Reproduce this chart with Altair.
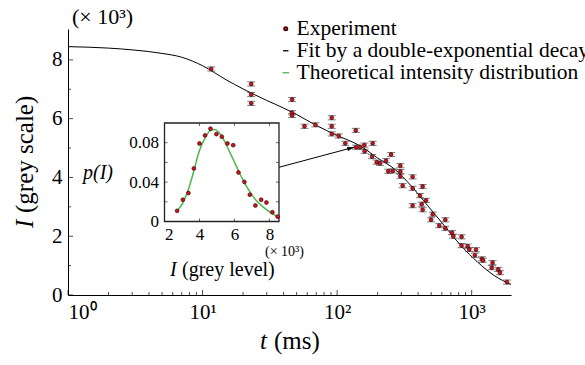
import altair as alt
import pandas as pd

FONT = "Liberation Serif"

# ---------------- main panel: decay of the intensity ----------------
exp_t = [11.6, 23.0, 23.0, 23.0, 46.3, 46.3, 46.3, 57.2, 69.0, 91.2, 91.2, 91.2, 102.8,
         137.5, 115, 138, 148, 159.6, 160, 183.8, 181.8, 196.8, 208.4, 231, 251.9, 240,
         259, 295, 295, 295, 364, 307, 364, 432, 413, 458, 364, 425, 432, 513, 499, 637,
         574, 637, 714, 730, 841, 841, 933, 1077, 960, 1057, 1192, 1210, 1430, 1410, 1575,
         1622, 1829]
exp_I = [7.69, 7.18, 6.82, 6.52, 6.65, 6.20, 6.11, 5.74, 5.79, 6.03, 5.74, 5.48, 5.41,
         5.60, 5.16, 5.03, 5.03, 5.10, 4.89, 5.16, 4.71, 4.52, 4.48, 4.57, 4.78, 4.21,
         4.22, 4.40, 4.20, 4.04, 4.02, 3.72, 3.63, 3.69, 3.38, 3.22, 3.04, 3.09, 2.90, 2.75,
         2.56, 2.56, 2.36, 2.27, 2.12, 2.00, 1.98, 1.68, 1.66, 1.54, 1.55, 1.35, 1.23, 1.18,
         1.10, 0.93, 0.87, 0.76, 0.44]
exp_err = 0.07

fit_t = [1, 2, 3, 5, 7, 10, 15, 20, 30, 40, 50, 70, 100, 150, 200, 266, 354, 471, 626,
         833, 1107, 1472, 1958]
fit_I = [8.45, 8.40, 8.34, 8.22, 8.09, 7.80, 7.32, 7.01, 6.62, 6.36, 6.14, 5.77, 5.43,
         5.06, 4.66, 4.29, 3.72, 3.04, 2.36, 1.68, 1.12, 0.66, 0.36]

main_x_domain = [1, 1960]
main_y_domain = [0, 9.05]
main_x_labels = [1, 10, 100, 1000]
main_x_minor = [2, 3, 4, 5, 6, 7, 8, 9, 20, 30, 40, 50, 60, 70, 80, 90,
                200, 300, 400, 500, 600, 700, 800, 900]
main_y_labels = [0, 2, 4, 6, 8]
main_y_minor = [1, 3, 5, 7]

arrow_from = (36.6, 4.34)
arrow_to = (134, 5.03)

# ---------------- inset: intensity distribution ----------------
inset_I = [2.72, 3.05, 3.37, 3.68, 4.0, 4.32, 4.63, 4.97, 5.28, 5.6, 5.93, 6.23, 6.57,
           6.88, 7.2, 7.53, 7.83, 8.17, 8.47]
inset_p = [0.0108, 0.0221, 0.0289, 0.0539, 0.0792, 0.0874, 0.0942, 0.0887, 0.086,
           0.0792, 0.0775, 0.0498, 0.0402, 0.0272, 0.0162, 0.0221, 0.0193, 0.0094, 0.0049]
theory_I = [2.72, 3.05, 3.37, 3.68, 4.0, 4.32, 4.63, 4.86, 5.09, 5.33, 5.6, 5.92, 6.23,
            6.57, 6.88, 7.2, 7.52, 7.83, 8.17, 8.48]
theory_p = [0.0108, 0.0190, 0.0327, 0.0515, 0.0720, 0.0850, 0.0925, 0.0935, 0.0908,
            0.0850, 0.0754, 0.0634, 0.0515, 0.0395, 0.0303, 0.0224, 0.0166, 0.0121,
            0.0080, 0.0050]
inset_x_domain = [2, 8.55]
inset_y_domain = [0, 0.1]
inset_x_labels = [2, 4, 6, 8]
inset_y_labels = [0, 0.04, 0.08]
inset_x_ticks = [4, 6, 8]
inset_y_ticks = [0.02, 0.04, 0.06, 0.08]

series_names = ["Experiment", "Fit by a double-exponential decay",
                "Theoretical intensity distribution"]

# ---------------- layout (pixels) ----------------
W, H = 443, 266
INSET_X_RANGE = [96.5, 211]
INSET_Y_RANGE = [192.5, 94]

RED = "#cc1420"
GREEN = "#4cb748"

exp_df = pd.DataFrame({"t": exp_t, "I": exp_I})
fit_df = pd.DataFrame({"t": fit_t, "I": fit_I})

mx = alt.Scale(type="log", domain=main_x_domain, nice=False)
my = alt.Scale(domain=main_y_domain, nice=False, zero=False)

x_axis = alt.Axis(values=main_x_labels, ticks=False, grid=False, labelFont=FONT,
                  labelExpr="datum.value < 5 ? '10⁰' : datum.value < 50 ? '10¹' : datum.value < 500 ? '10²' : '10³'",
                  labelFontSize=21, labelPadding=6, title=None)
y_axis = alt.Axis(values=main_y_labels, ticks=False, grid=False, labelFont=FONT,
                  labelFontSize=21, labelPadding=6, title=None)

base = alt.Chart(exp_df).transform_calculate(lo=f"datum.I - {exp_err}", hi=f"datum.I + {exp_err}")

err_rule = base.mark_rule(color="#555555", strokeWidth=0.8).encode(
    x=alt.X("t:Q", scale=mx, axis=x_axis),
    y=alt.Y("lo:Q", scale=my, axis=y_axis),
    y2="hi:Q")
cap_lo = base.mark_tick(orient="horizontal", size=8, thickness=1, color="#444444").encode(
    x=alt.X("t:Q", scale=mx), y=alt.Y("lo:Q", scale=my))
cap_hi = base.mark_tick(orient="horizontal", size=8, thickness=1, color="#444444").encode(
    x=alt.X("t:Q", scale=mx), y=alt.Y("hi:Q", scale=my))
pts = base.mark_point(filled=True, size=15, fill=RED, stroke="#300000", strokeWidth=0.6,
                      opacity=1).encode(
    x=alt.X("t:Q", scale=mx), y=alt.Y("I:Q", scale=my))

fit_line = alt.Chart(fit_df).mark_line(color="black", strokeWidth=1, interpolate="monotone").encode(
    x=alt.X("t:Q", scale=mx), y=alt.Y("I:Q", scale=my))

xmaj = alt.Chart(pd.DataFrame({"v": main_x_labels})).mark_tick(
    orient="vertical", size=5, thickness=1, yOffset=-2.5, color="black").encode(
    x=alt.X("v:Q", scale=mx), y=alt.YDatum(0, scale=my))
xmin = alt.Chart(pd.DataFrame({"v": main_x_minor})).mark_tick(
    orient="vertical", size=3, thickness=1, yOffset=-1.5, color="black").encode(
    x=alt.X("v:Q", scale=mx), y=alt.YDatum(0, scale=my))
ymaj = alt.Chart(pd.DataFrame({"v": main_y_labels})).mark_tick(
    orient="horizontal", size=5, thickness=1, xOffset=2.5, color="black").encode(
    y=alt.Y("v:Q", scale=my), x=alt.XDatum(1, scale=mx))
ymin = alt.Chart(pd.DataFrame({"v": main_y_minor})).mark_tick(
    orient="horizontal", size=3, thickness=1, xOffset=1.5, color="black").encode(
    y=alt.Y("v:Q", scale=my), x=alt.XDatum(1, scale=mx))

arrow_df = pd.DataFrame({"t": [arrow_from[0]], "I": [arrow_from[1]],
                         "t2": [arrow_to[0]], "I2": [arrow_to[1]]})
arrow_line = alt.Chart(arrow_df).mark_rule(color="black", strokeWidth=1).encode(
    x=alt.X("t:Q", scale=mx), y=alt.Y("I:Q", scale=my),
    x2="t2:Q", y2="I2:Q")
arrow_head = alt.Chart(arrow_df).mark_point(
    shape="M 0 0 L -2 -0.6 L -2 0.6 Z", filled=True, color="black", size=49,
    angle=345.3, opacity=1).encode(
    x=alt.X("t2:Q", scale=mx), y=alt.Y("I2:Q", scale=my))


def label(text, x, y, size, italic=False, align="left", angle=0, baseline="middle"):
    mark = dict(align=align, baseline=baseline, fontSize=size, font=FONT, color="black")
    if italic:
        mark["fontStyle"] = "italic"
    if angle:
        mark["angle"] = angle
    return alt.Chart(pd.DataFrame({"s": [text]})).mark_text(**mark).encode(
        x=alt.value(x), y=alt.value(y), text="s:N")


# axis titles (italic symbol + upright unit), placed in pixels relative to the plot area
title_parts = [
    label("I", -43, 199, 25, italic=True, angle=270),
    label("(grey scale)", -43, 184, 25, angle=270),
    label("t", 192, 312, 25, italic=True),
    label("(ms)", 206, 312, 25),
    label("(× 10³)", 4, -5, 22, baseline="alphabetic"),
]

legend_obj = alt.Legend(orient="none", legendX=207, legendY=-11, title=None,
                        labelFontSize=21.5, labelFont=FONT, labelLimit=600,
                        symbolStrokeWidth=1.3, symbolOpacity=1, labelOffset=0,
                        padding=0, rowPadding=-1.5)
legend_layer = alt.Chart(pd.DataFrame({"series": series_names})).mark_point(
    filled=False, opacity=0, fill=RED, strokeWidth=1.3).encode(
    color=alt.Color("series:N", scale=alt.Scale(domain=series_names,
                    range=["#300000", "black", GREEN]), legend=legend_obj),
    shape=alt.Shape("series:N", scale=alt.Scale(domain=series_names,
                    range=["circle", "stroke", "stroke"]), legend=legend_obj),
    size=alt.Size("series:N", scale=alt.Scale(domain=series_names,
                  range=[14, 45, 45]), legend=legend_obj))

main = alt.layer(err_rule, fit_line, cap_lo, cap_hi, pts, xmaj, xmin, ymaj, ymin,
                 arrow_line, arrow_head, *title_parts, legend_layer)

# ---------------- inset ----------------
ix = alt.Scale(domain=inset_x_domain, range=INSET_X_RANGE, nice=False, zero=False)
iy = alt.Scale(domain=inset_y_domain, range=INSET_Y_RANGE, nice=False, zero=False)

frame_df = pd.DataFrame({"x0": [inset_x_domain[0]], "x1": [inset_x_domain[1]],
                         "y0": [inset_y_domain[0]], "y1": [inset_y_domain[1]]})
frame = alt.Chart(frame_df).mark_rect(fill="white", stroke="#222222", strokeWidth=1.3).encode(
    x=alt.X("x0:Q", scale=ix, axis=alt.Axis(
        orient="bottom", offset=-(H - INSET_Y_RANGE[0]), values=inset_x_labels, format="d",
        ticks=False, domain=False, grid=False, labelFont=FONT, labelFontSize=17,
        labelPadding=5, title=None)),
    x2="x1:Q",
    y=alt.Y("y0:Q", scale=iy, axis=alt.Axis(
        orient="left", offset=-INSET_X_RANGE[0], values=inset_y_labels, format=".2~f",
        ticks=False, domain=False, grid=False, labelFont=FONT, labelFontSize=17,
        labelPadding=6, title=None)),
    y2="y1:Q")

ixt = pd.DataFrame({"v": inset_x_ticks})
iyt = pd.DataFrame({"v": inset_y_ticks})
it_b = alt.Chart(ixt).mark_tick(orient="vertical", size=3, thickness=1, yOffset=-1.5,
                                color="#222222").encode(
    x=alt.X("v:Q", scale=ix), y=alt.YDatum(inset_y_domain[0], scale=iy))
it_t = alt.Chart(ixt).mark_tick(orient="vertical", size=3, thickness=1, yOffset=1.5,
                                color="#222222").encode(
    x=alt.X("v:Q", scale=ix), y=alt.YDatum(inset_y_domain[1], scale=iy))
it_l = alt.Chart(iyt).mark_tick(orient="horizontal", size=3, thickness=1, xOffset=1.5,
                                color="#222222").encode(
    y=alt.Y("v:Q", scale=iy), x=alt.XDatum(inset_x_domain[0], scale=ix))
it_r = alt.Chart(iyt).mark_tick(orient="horizontal", size=3, thickness=1, xOffset=-1.5,
                                color="#222222").encode(
    y=alt.Y("v:Q", scale=iy), x=alt.XDatum(inset_x_domain[1], scale=ix))

theory = alt.Chart(pd.DataFrame({"I": theory_I, "p": theory_p})).mark_line(
    color=GREEN, strokeWidth=1.5, interpolate="monotone").encode(
    x=alt.X("I:Q", scale=ix), y=alt.Y("p:Q", scale=iy))
ipts = alt.Chart(pd.DataFrame({"I": inset_I, "p": inset_p})).mark_point(
    filled=True, size=15, fill=RED, stroke="#300000", strokeWidth=0.6, opacity=1).encode(
    x=alt.X("I:Q", scale=ix), y=alt.Y("p:Q", scale=iy))

inset_text = [
    label("p(I)", 30, 144, 20, italic=True, align="center"),
    label("I", 102, 241, 20, italic=True),
    label("(grey level)", 114, 241, 20),
    label("(× 10³)", 197, 223, 14),
]

inset = alt.layer(frame, theory, ipts, it_b, it_t, it_l, it_r, *inset_text)

chart = alt.layer(main, inset).resolve_scale(x="independent", y="independent").properties(
    width=W, height=H, autosize="none",
    padding={"left": 68, "top": 29, "right": 585 - 68 - W, "bottom": 365 - 29 - H}
).configure(font=FONT, background="white").configure_view(stroke=None).configure_axis(
    labelFont=FONT, titleFont=FONT, labelColor="black", titleColor="black",
    domainColor="black", domainWidth=1)

chart.save("out.html", embed_options={"renderer": "svg", "actions": False})
